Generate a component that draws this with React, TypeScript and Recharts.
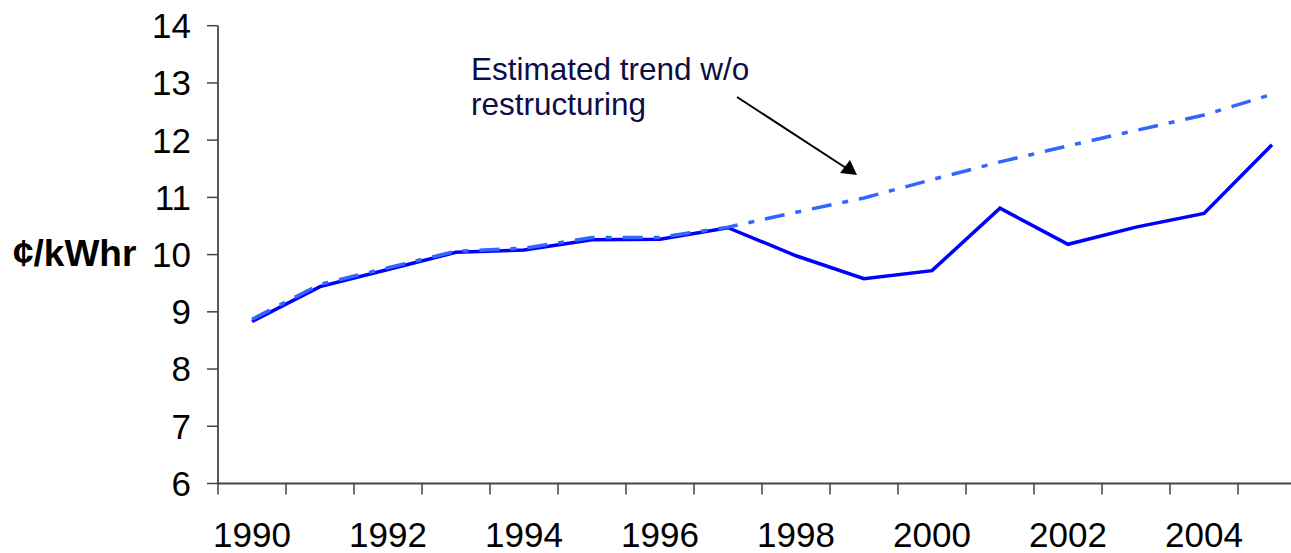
import React from 'react';
import { LineChart, Line, XAxis, YAxis } from 'recharts';

const years = ['1990','1991','1992','1993','1994','1995','1996','1997','1998','1999','2000','2001','2002','2003','2004','2005'];
const actual = [8.83, 9.44, 9.74, 10.04, 10.08, 10.26, 10.27, 10.47, 9.98, 9.58, 9.72, 10.81, 10.18, 10.48, 10.72, 11.92];
const trend = [8.87, 9.48, 9.77, 10.06, 10.11, 10.3, 10.3, 10.48, 10.74, 10.99, 11.31, 11.62, 11.9, 12.17, 12.44, 12.8];
const yTicks = [6, 7, 8, 9, 10, 11, 12, 13, 14];
const labeledYears = ['1990','1992','1994','1996','1998','2000','2002','2004'];

const data = years.map((y, i) => ({ year: y, actual: actual[i], trend: trend[i] }));

const W = 1310;
const H = 553;
const PLOT_LEFT = 218;
const PLOT_RIGHT = 1306;
const PLOT_TOP = 25.7;
const PLOT_BOTTOM = 483.5;
const Y_AXIS_W = 120;
const X_AXIS_H = 60;
const BAND = (PLOT_RIGHT - PLOT_LEFT) / years.length;
const FONT = '"Liberation Sans", Arial, Helvetica, sans-serif';
const AXIS_COLOR = '#444';

function XTick(props: any) {
  const { x, y, payload } = props;
  const show = labeledYears.includes(String(payload.value));
  return (
    <g>
      <line x1={x - BAND / 2} x2={x - BAND / 2} y1={y} y2={y + 11} stroke={AXIS_COLOR} strokeWidth={1.5} />
      {show && (
        <text x={x} y={y + 63.5} textAnchor="middle" fontSize={35} fontFamily={FONT} fill="#000">
          {payload.value}
        </text>
      )}
    </g>
  );
}

export default function App() {
  return (
    <div style={{ position: 'absolute', left: 0, top: 0, width: 1291, height: 553, overflow: 'hidden', background: '#fff' }}>
      <LineChart
        width={W}
        height={H}
        data={data}
        margin={{ left: PLOT_LEFT - Y_AXIS_W, right: W - PLOT_RIGHT, top: PLOT_TOP, bottom: H - PLOT_BOTTOM - X_AXIS_H }}
      >
        <XAxis
          dataKey="year"
          type="category"
          scale="band"
          interval={0}
          height={X_AXIS_H}
          tickSize={0}
          tickMargin={0}
          tickLine={false}
          axisLine={{ stroke: AXIS_COLOR, strokeWidth: 2 }}
          tick={<XTick />}
        />
        <YAxis
          width={Y_AXIS_W}
          domain={[6, 14]}
          ticks={yTicks}
          type="number"
          allowDataOverflow
          tickSize={11}
          tickMargin={16}
          axisLine={{ stroke: '#222', strokeWidth: 1.5 }}
          tickLine={{ stroke: AXIS_COLOR, strokeWidth: 1.5 }}
          tick={{ fill: '#000', fontSize: 35, fontFamily: FONT }}
        />
        <Line
          dataKey="actual"
          type="linear"
          stroke="#0000ff"
          strokeWidth={3.5}
          dot={false}
          activeDot={false}
          isAnimationActive={false}
        />
        <Line
          dataKey="trend"
          type="linear"
          stroke="#3366ff"
          strokeWidth={3.5}
          strokeDasharray="20 11 6 11"
          dot={false}
          activeDot={false}
          isAnimationActive={false}
        />
      </LineChart>
      <svg width={1291} height={553} style={{ position: 'absolute', left: 0, top: 0, pointerEvents: 'none' }}>
        <text x={13} y={266} fontSize={37} fontWeight="bold" fontFamily={FONT} fill="#000">¢/kWhr</text>
        <text x={471} y={80} fontSize={31.5} fontFamily={FONT} fill="#0d0d45">Estimated trend w/o</text>
        <text x={471} y={115} fontSize={31.5} fontFamily={FONT} fill="#0d0d45">restructuring</text>
        <line x1={737} y1={97} x2={846} y2={168} stroke="#000" strokeWidth={2} />
        <polygon points="857,175 840,173 850,160" fill="#000" />
      </svg>
    </div>
  );
}
